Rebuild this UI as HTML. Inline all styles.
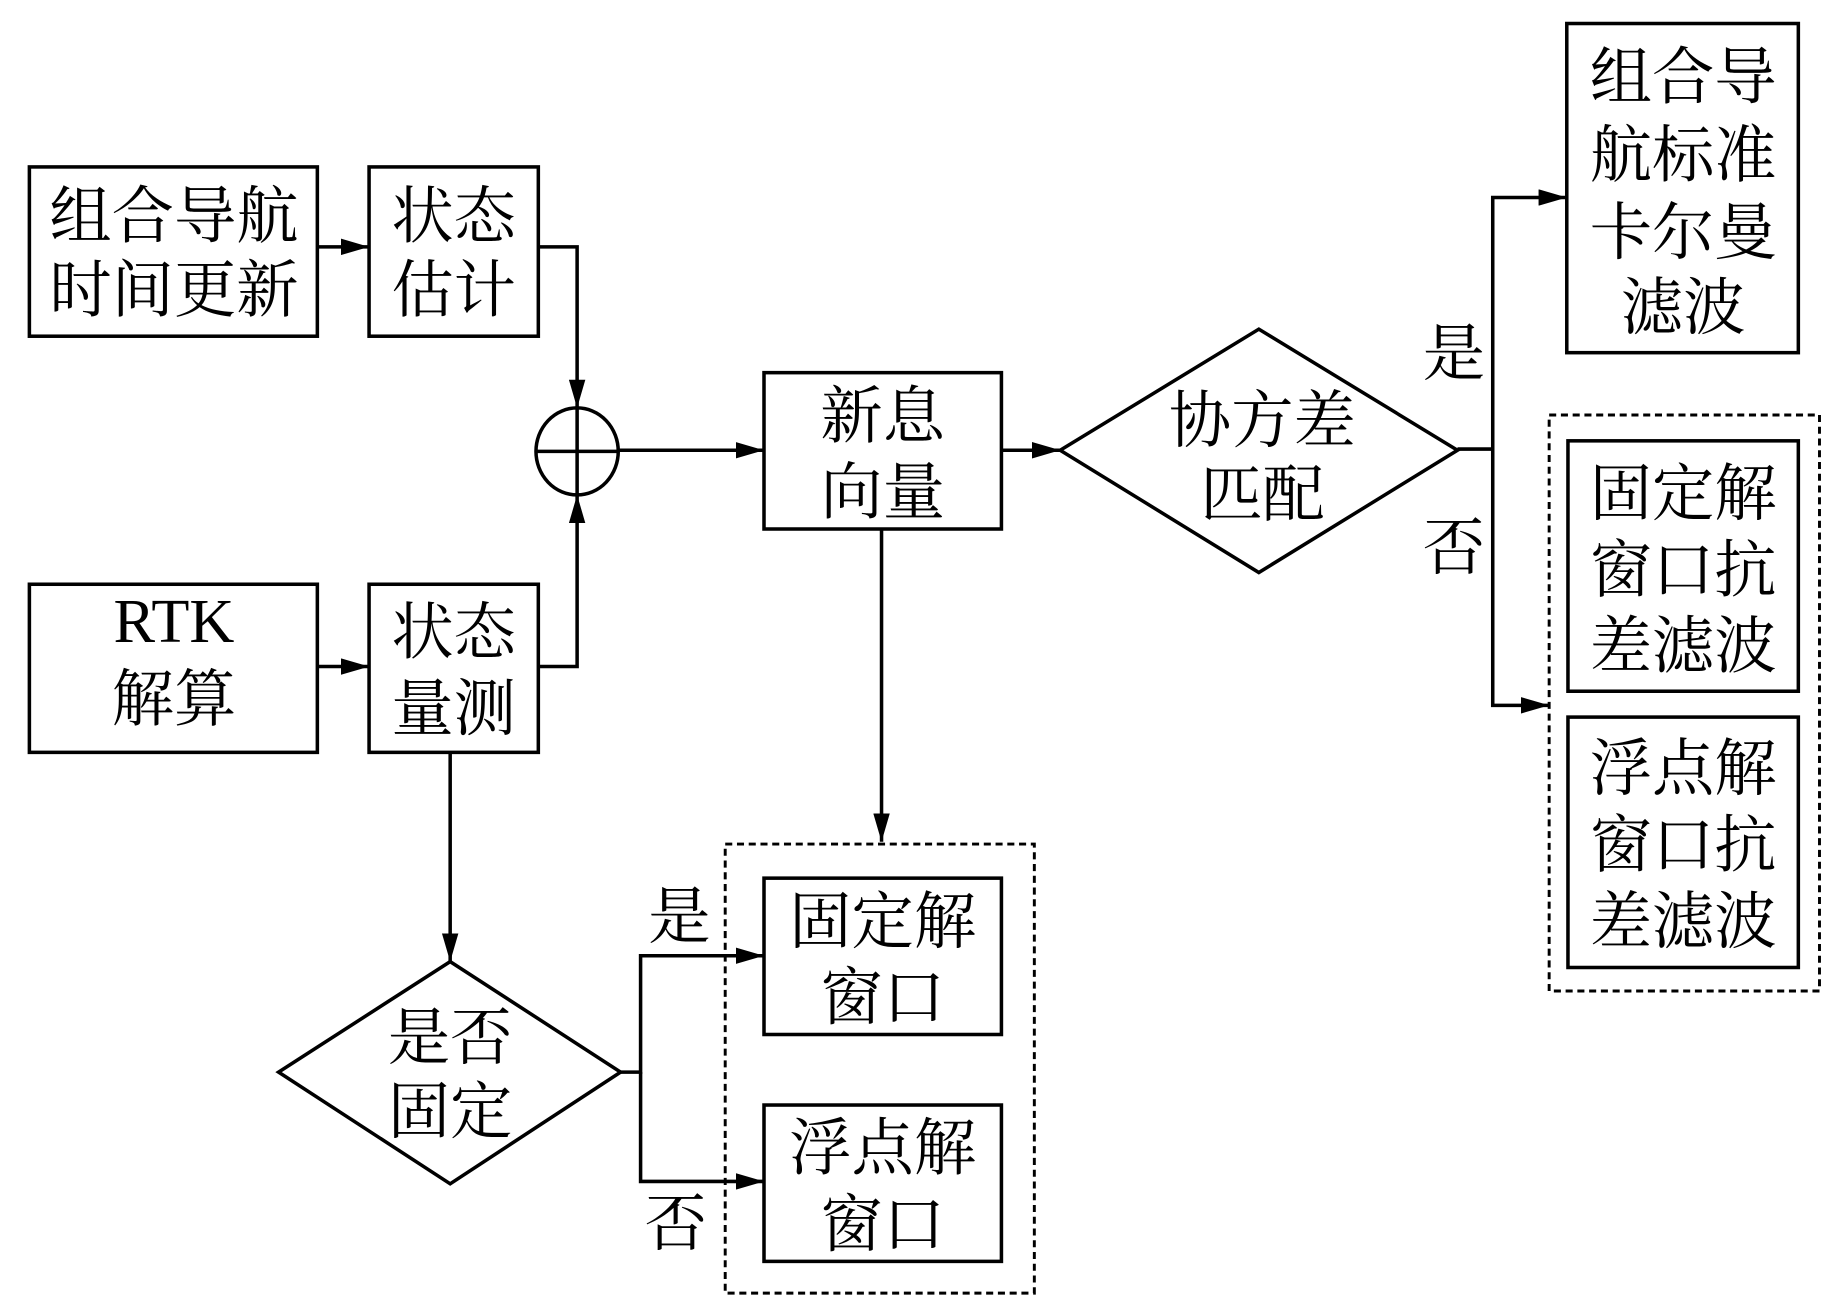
<!DOCTYPE html>
<html><head><meta charset="utf-8"><style>
html,body{margin:0;padding:0;background:#fff;}
svg{display:block;}
text{font-family:"Liberation Serif","Noto Serif CJK SC",serif;font-size:53px;fill:#000;text-anchor:middle;}
</style></head><body>
<svg width="1843" height="1299" viewBox="0 0 1568 1105" preserveAspectRatio="none" xmlns="http://www.w3.org/2000/svg">
<defs>
<marker id="b" viewBox="0 0 24 14" refX="24" refY="7" markerWidth="24" markerHeight="14" orient="auto" markerUnits="userSpaceOnUse"><path d="M0,0 L24,7 L0,14 z" fill="#000"/></marker></defs>
<g fill="none" stroke="#000" stroke-width="3">
<rect x="25" y="142" width="245" height="144"/>
<rect x="314" y="142" width="144" height="144"/>
<rect x="25" y="497" width="245" height="143"/>
<rect x="314" y="497" width="144" height="143"/>
<ellipse cx="491" cy="384" rx="35" ry="37"/>
<line x1="456" y1="384" x2="526" y2="384"/>
<line x1="491" y1="347" x2="491" y2="421"/>
<rect x="650" y="317" width="202" height="133"/>
<polygon points="902,383 1071,280 1240,383 1071,487"/>
<rect x="1333" y="20" width="197" height="280"/>
<rect x="1318" y="353" width="230" height="490" stroke-dasharray="6,4" stroke-width="2.5"/>
<rect x="1334" y="375" width="196" height="213"/>
<rect x="1334" y="610" width="196" height="213"/>
<rect x="617" y="718" width="263" height="382" stroke-dasharray="6,4" stroke-width="2.5"/>
<rect x="650" y="747" width="202" height="133"/>
<rect x="650" y="940" width="202" height="133"/>
<polygon points="237,912 383,818 528,912 383,1007"/>
<g marker-end="url(#b)">
<line x1="270" y1="210" x2="314" y2="210"/>
<polyline points="458,210 491,210 491,347"/>
<line x1="270" y1="567" x2="314" y2="567"/>
<polyline points="458,567 491,567 491,421"/>
<line x1="526" y1="383" x2="650" y2="383"/>
<line x1="852" y1="383" x2="902" y2="383"/>
<polyline points="1240,382 1270,382 1270,168 1333,168"/>
<polyline points="1270,382 1270,600 1318,600"/>
<line x1="750" y1="450" x2="750" y2="716"/>
<line x1="383" y1="640" x2="383" y2="818"/>
<polyline points="528,912 545,912 545,813 650,813"/>
<polyline points="545,912 545,1005 650,1005"/>
</g>
</g>
<text x="148" y="202">组合导航</text><text x="148" y="265">时间更新</text>
<text x="386" y="202">状态</text><text x="386" y="265">估计</text>
<text x="148" y="546">RTK</text><text x="148" y="613">解算</text>
<text x="386" y="556">状态</text><text x="386" y="621">量测</text>
<text x="751" y="372">新息</text><text x="751" y="437">向量</text>
<text x="1074" y="376">协方差</text><text x="1074" y="439">匹配</text>
<text x="1432" y="84">组合导</text><text x="1432" y="150">航标准</text><text x="1432" y="216">卡尔曼</text><text x="1432" y="280">滤波</text>
<text x="1432" y="438">固定解</text><text x="1432" y="503">窗口抗</text><text x="1432" y="568">差滤波</text>
<text x="1432" y="672">浮点解</text><text x="1432" y="737">窗口抗</text><text x="1432" y="802">差滤波</text>
<text x="1237" y="319">是</text><text x="1237" y="484">否</text>
<text x="751" y="802">固定解</text><text x="751" y="867">窗口</text>
<text x="751" y="995">浮点解</text><text x="751" y="1060">窗口</text>
<text x="383" y="901">是否</text><text x="383" y="964">固定</text>
<text x="578" y="798">是</text><text x="575" y="1059">否</text>
</svg>
</body></html>
